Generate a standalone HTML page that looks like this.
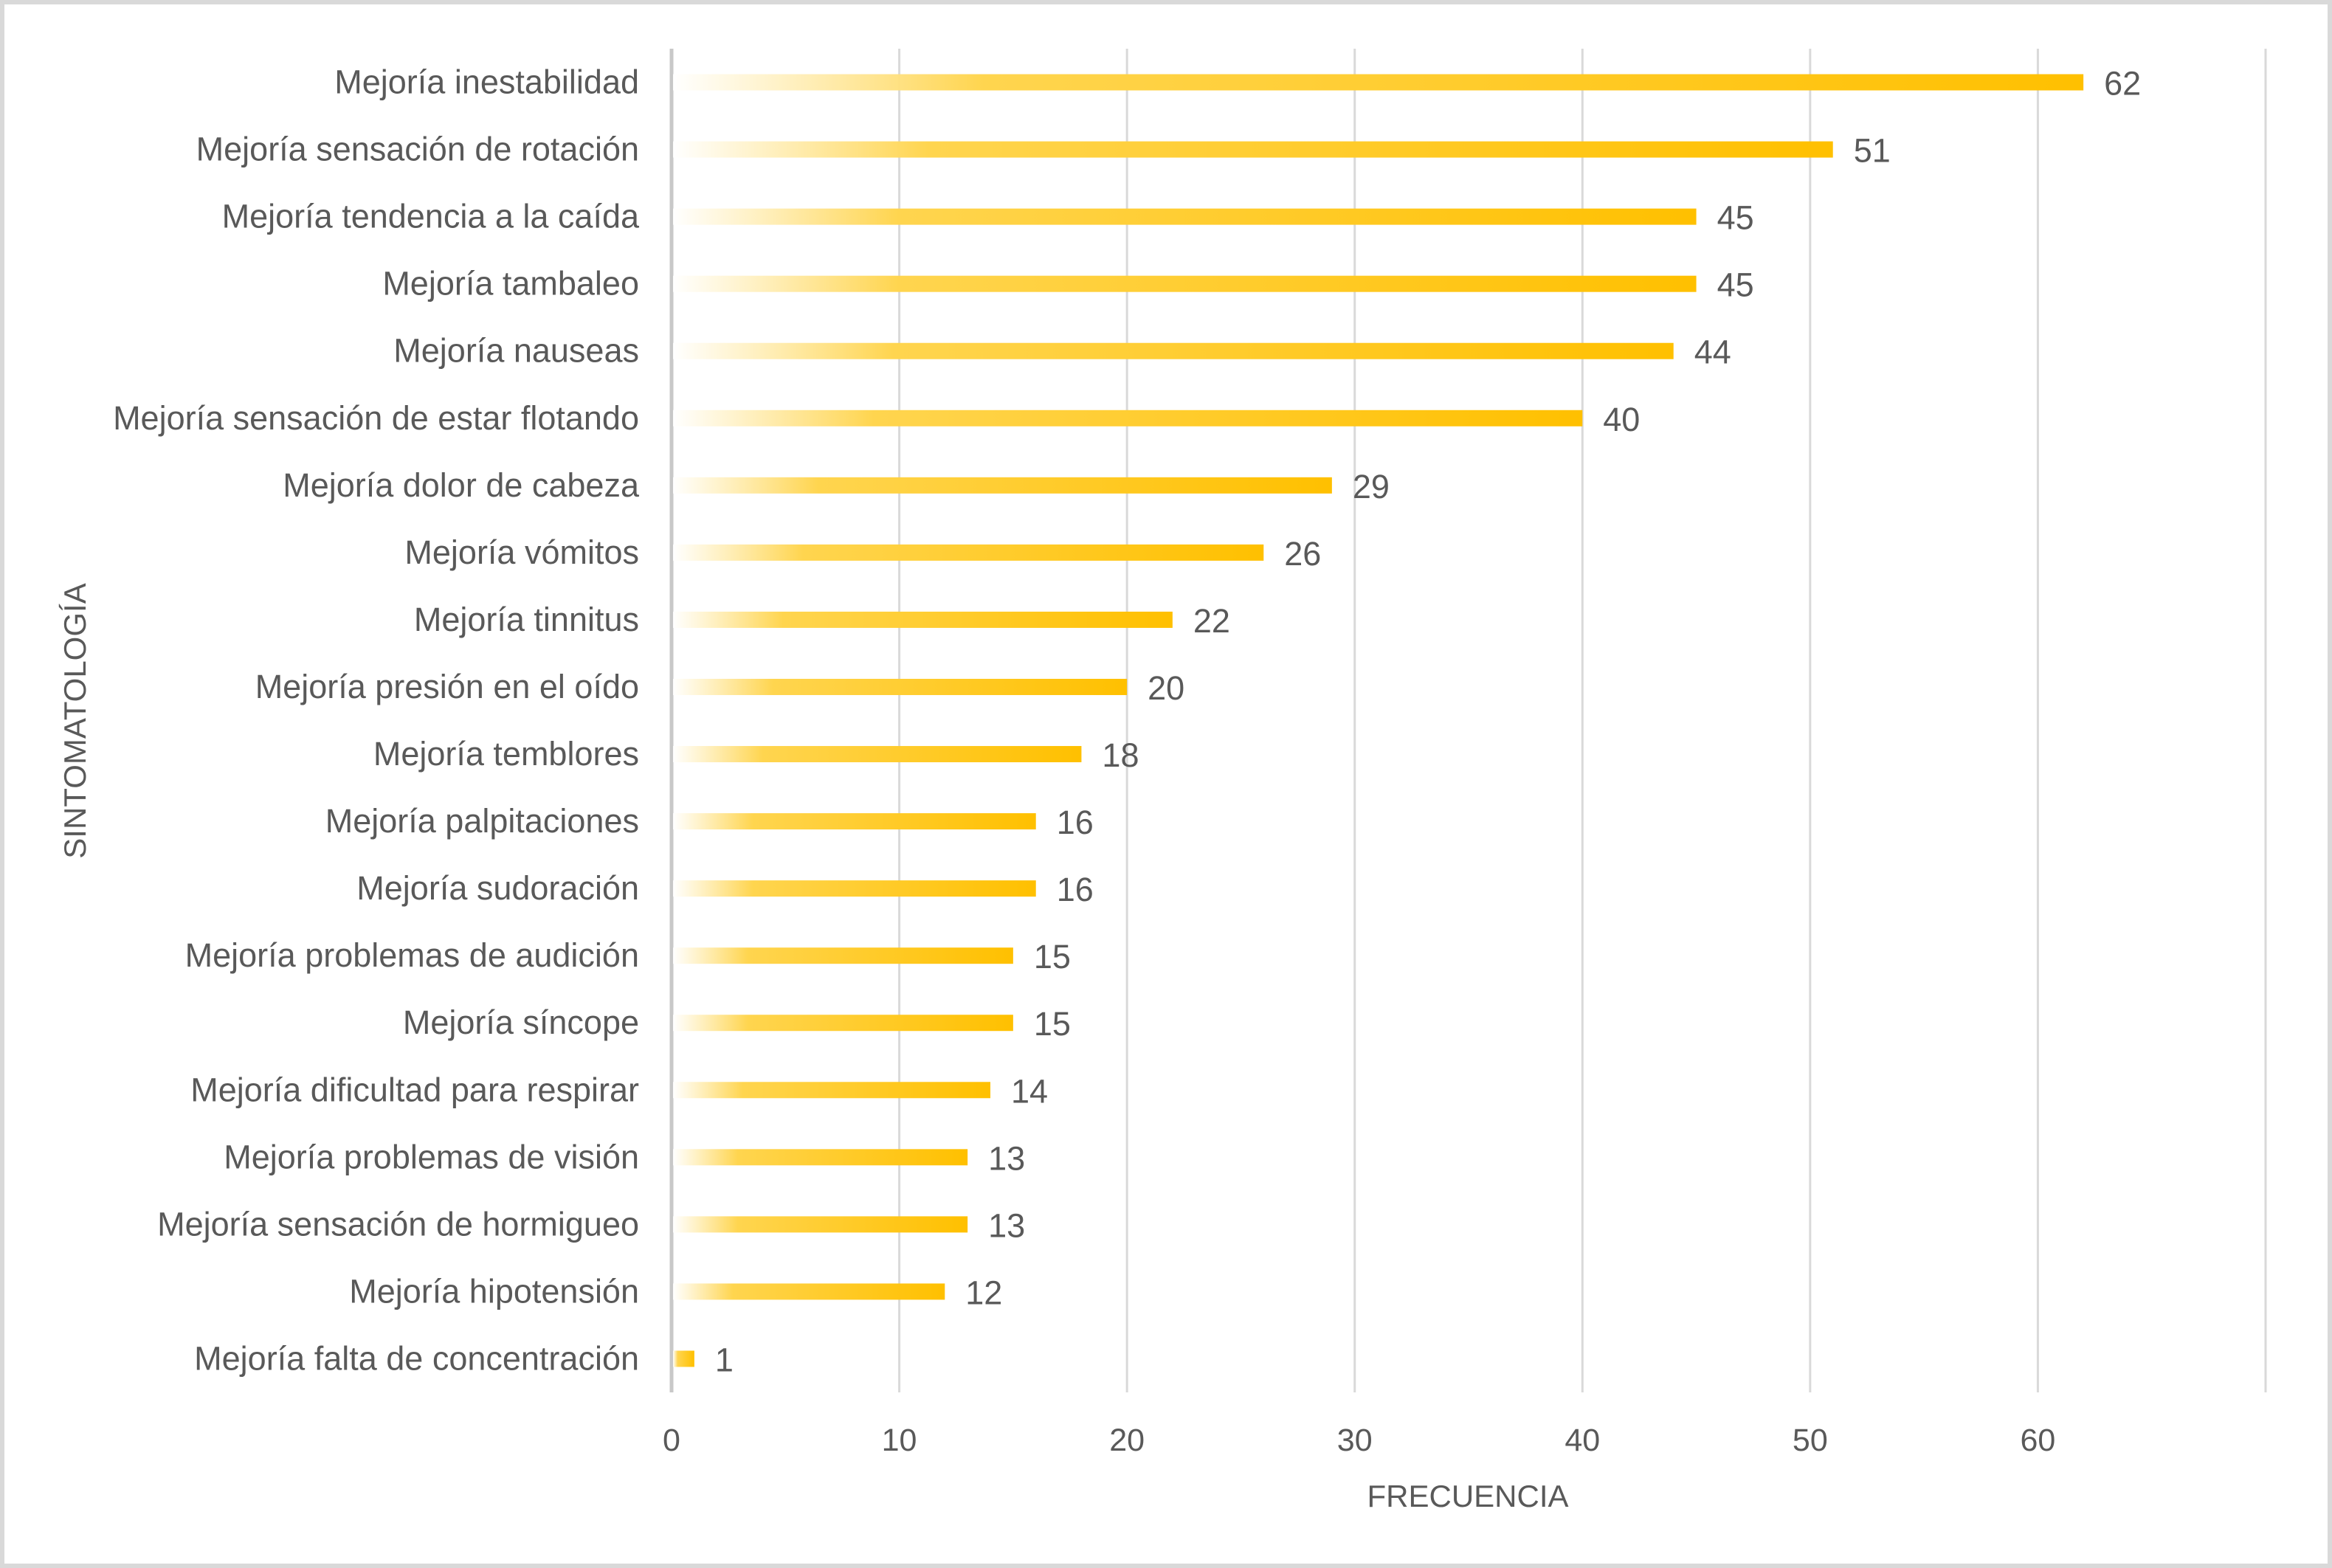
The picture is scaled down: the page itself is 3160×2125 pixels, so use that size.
<!DOCTYPE html>
<html><head><meta charset="utf-8">
<style>
html,body{margin:0;padding:0;background:#fff;}
svg{display:block;}
text{font-family:"Liberation Sans",sans-serif;fill:#595959;}
</style></head>
<body>
<svg id="chart" width="3160" height="2125" viewBox="0 0 3160 2125" xmlns="http://www.w3.org/2000/svg">
<defs>
<linearGradient id="barGrad" x1="0" y1="0" x2="1" y2="0">
<stop offset="0" stop-color="#FFFFFF" stop-opacity="0.9"/>
<stop offset="0.22" stop-color="#FFD54F"/>
<stop offset="1" stop-color="#FFC000"/>
</linearGradient>
</defs>
<rect x="3" y="3" width="3154" height="2119" fill="#fff" stroke="#d9d9d9" stroke-width="6"/>
<g id="grid"></g>
<g id="bars"></g>
<g id="labels"></g>
<text x="1989" y="2042" font-size="42" text-anchor="middle">FRECUENCIA</text>
<text transform="translate(116,977) rotate(-90)" font-size="42" text-anchor="middle">SINTOMATOLOGÍA</text>
</svg>
<script>
const categories = ["Mejoría inestabilidad","Mejoría sensación de rotación","Mejoría tendencia a la caída","Mejoría tambaleo","Mejoría nauseas","Mejoría sensación de estar flotando","Mejoría dolor de cabeza","Mejoría vómitos","Mejoría tinnitus","Mejoría presión en el oído","Mejoría temblores","Mejoría palpitaciones","Mejoría sudoración","Mejoría problemas de audición","Mejoría síncope","Mejoría dificultad para respirar","Mejoría problemas de visión","Mejoría sensación de hormigueo","Mejoría hipotensión","Mejoría falta de concentración"];
const values = [62,51,45,45,44,40,29,26,22,20,18,16,16,15,15,14,13,13,12,1];
const xTicks = [0,10,20,30,40,50,60];
const xMax = 70;

const NS = "http://www.w3.org/2000/svg";
const plotL = 910, plotR = 3070, plotT = 66, plotB = 1887;
const xScale = v => plotL + (v / xMax) * (plotR - plotL);
const band = (plotB - plotT) / categories.length;
const yCenter = i => plotT + band * (i + 0.5);
function mk(tag, attrs, parent){const e=document.createElementNS(NS,tag);for(const k in attrs)e.setAttribute(k,attrs[k]);parent.appendChild(e);return e;}

const grid = document.getElementById('grid');
const gridVals = xTicks.concat([xMax]);
gridVals.forEach((v,i)=>{
  const l = mk('line',{x1:xScale(v),x2:xScale(v),y1:plotT,y2:plotB,stroke:v===0?'#c8c8c8':'#d9d9d9','stroke-width':v===0?5:3},grid);
  
  
});
xTicks.forEach(v=>{
  const t = mk('text',{x:xScale(v),y:1966,'font-size':43,'text-anchor':'middle'},grid);
  t.textContent = v;
  
  
});

const bars = document.getElementById('bars');
const labels = document.getElementById('labels');
const bh = 22;
categories.forEach((c,i)=>{
  const y = yCenter(i);
  const r = mk('rect',{x:xScale(0)+2,y:y-bh/2,width:Math.max(0,xScale(values[i])-xScale(0)-2),height:bh,fill:'url(#barGrad)'},bars);
  
  
  const lab = mk('text',{x:866,y:y+15,'font-size':45,'text-anchor':'end'},labels);
  lab.textContent = c;
  
  
  const vl = mk('text',{x:xScale(values[i])+28,y:y+17,'font-size':45},labels);
  vl.textContent = values[i];
  
  
});
</script>
</body></html>
